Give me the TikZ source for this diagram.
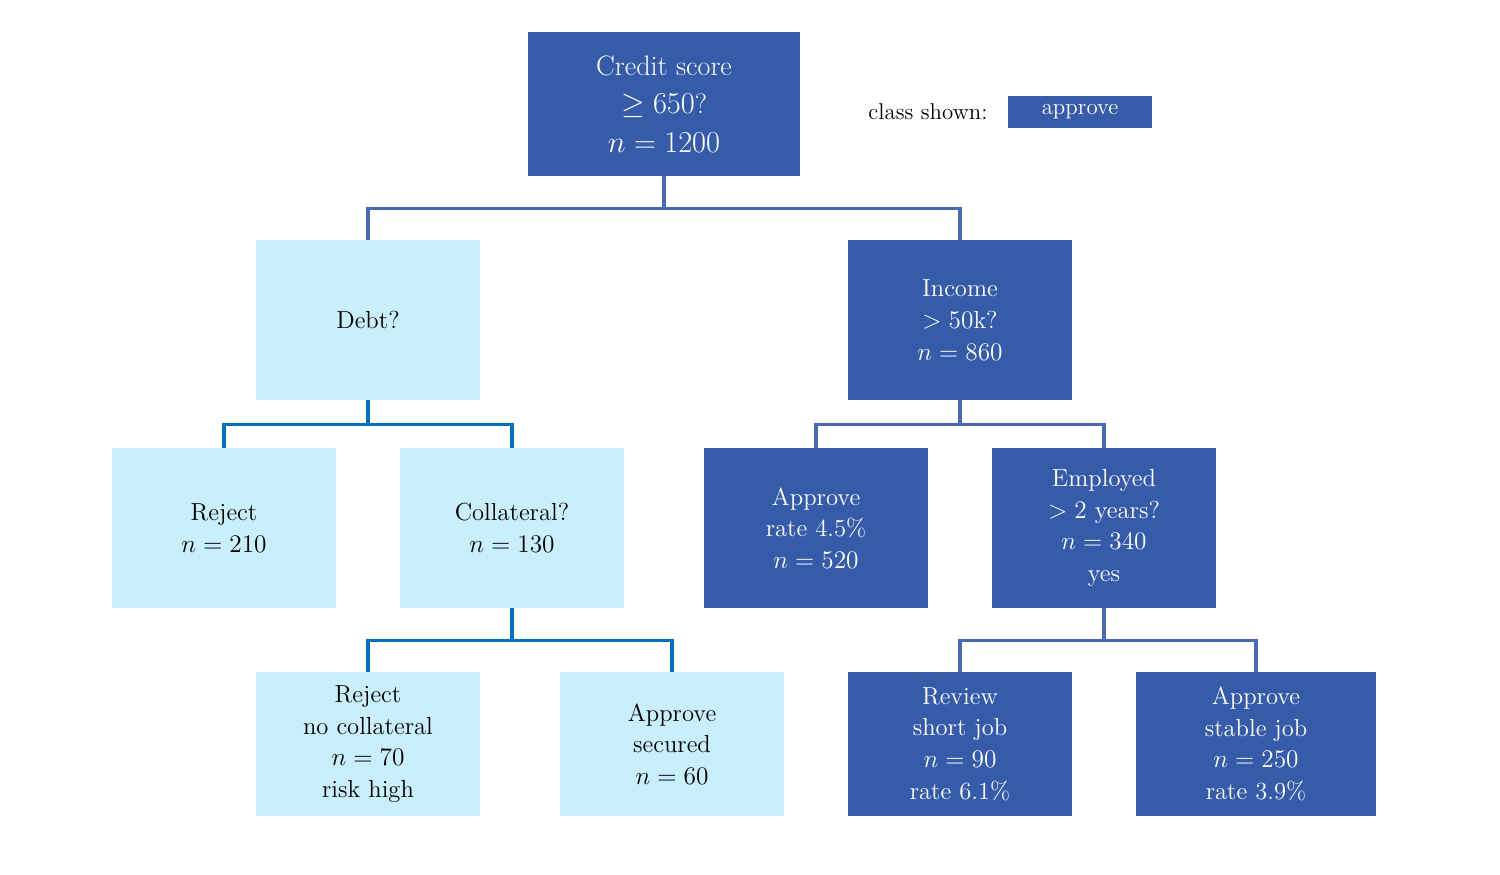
\documentclass[tikz,border=0pt]{standalone}
\usepackage{tikz}
\definecolor{darkfill}{HTML}{365CA9}
\definecolor{lightfill}{HTML}{C9EEFC}
\definecolor{leftedge}{HTML}{0070C0}
\definecolor{rightedge}{HTML}{4A68B2}
\begin{document}
\begin{tikzpicture}[x = 0.2mm, y = -0.2mm,
    yesnode/.style = {fill = darkfill, text = white, align = center, inner sep = 2pt,
      minimum width = 4.48cm, minimum height = 3.2cm, font = \fontsize{14}{18}\selectfont},
    nonode/.style = {fill = lightfill, text = black, align = center, inner sep = 2pt,
      minimum width = 4.48cm, minimum height = 3.2cm, font = \fontsize{14}{18}\selectfont},
    leaf/.style = {minimum height = 2.88cm},
    link/.style = {line width = 2pt}]
  \useasboundingbox (0,0) rectangle (1500,874);
  % decision tree: dark = approve, light = reject
  \node (root) at ( 664, 104) [yesnode, minimum width = 5.44cm, minimum height = 2.88cm, font = \fontsize{16}{22}\selectfont] {Credit score\\$\geq 650$?\\$n = 1200$};
  \node (key)  at ( 928, 112) [font = \fontsize{13}{15}\selectfont] {class shown:};
  \node (keybox) at (1080, 112) [fill = darkfill, text = white, minimum width = 2.88cm, minimum height = 0.64cm, inner sep = 1pt, font = \fontsize{13}{15}\selectfont] {approve};

  \node (no)  at ( 368, 320) [nonode]  {Debt?};
  \node (yes) at ( 960, 320) [yesnode] {Income\\$> 50$k?\\$n = 860$};

  \node (nono)   at ( 224, 528) [nonode]  {Reject\\$n = 210$};
  \node (noyes)  at ( 512, 528) [nonode]  {Collateral?\\$n = 130$};
  \node (yesno)  at ( 816, 528) [yesnode] {Approve\\rate 4.5\%\\$n = 520$};
  \node (yesyes) at (1104, 528) [yesnode] {Employed\\$> 2$ years?\\$n = 340$\\yes};

  \node (noyesno)   at ( 368, 744) [nonode, leaf]  {Reject\\no collateral\\$n = 70$\\risk high};
  \node (noyesyes)  at ( 672, 744) [nonode, leaf]  {Approve\\secured\\$n = 60$};
  \node (yesyesno)  at ( 960, 744) [yesnode, leaf] {Review\\short job\\$n = 90$\\rate 6.1\%};
  \node (yesyesyes) at (1256, 744) [yesnode, leaf, minimum width = 4.8cm] {Approve\\stable job\\$n = 250$\\rate 3.9\%};

  \draw [link, rightedge] (root.south) -- ++(0,32) -| (no.north);
  \draw [link, rightedge] (root.south) -- ++(0,32) -| (yes.north);
  \draw [link, leftedge] (no.south) -- ++(0,24) -| (nono.north);
  \draw [link, leftedge] (no.south) -- ++(0,24) -| (noyes.north);
  \draw [link, rightedge] (yes.south) -- ++(0,24) -| (yesno.north);
  \draw [link, rightedge] (yes.south) -- ++(0,24) -| (yesyes.north);
  \draw [link, leftedge] (noyes.south) -- ++(0,32) -| (noyesno.north);
  \draw [link, leftedge] (noyes.south) -- ++(0,32) -| (noyesyes.north);
  \draw [link, rightedge] (yesyes.south) -- ++(0,32) -| (yesyesno.north);
  \draw [link, rightedge] (yesyes.south) -- ++(0,32) -| (yesyesyes.north);
\end{tikzpicture}
\end{document}
